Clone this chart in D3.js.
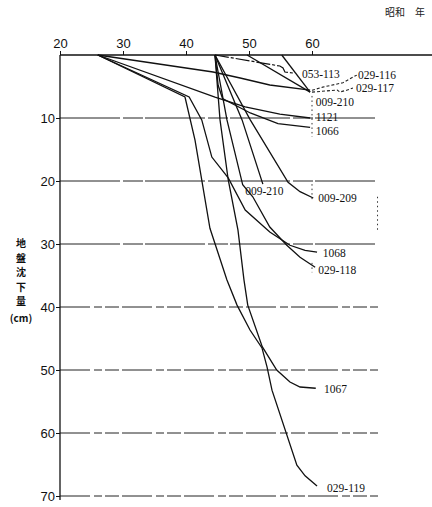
<!DOCTYPE html>
<html>
<head>
<meta charset="utf-8">
<script src="https://cdn.jsdelivr.net/npm/d3@7"></script>
<style>
  body { margin: 0; background: #fff; }
  svg { display: block; }
</style>
</head>
<body>
<div id="main"></div>
<script>
// x: 昭和 year, y: subsidence (cm)
var xTicks = [20, 30, 40, 50, 60];
var yTicks = [10, 20, 30, 40, 50, 60, 70];

var s029_116 = [[26, 0], [44.3, 2.7], [48.6, 3.65], [53.3, 4.76], [59.7, 5.56]];
var s029_116ext = [[60, 5.6], [61.7, 5.1], [64.9, 4.4], [66.5, 3.5], [67.1, 3.2]];
var s029_117 = [[49.7, 0], [59.7, 5.9]];
var s029_117ext = [[60, 5.9], [64.0, 5.56], [64.4, 5.87], [65.6, 5.56], [66.5, 5.24]];
var s055 = [[55.2, 0], [59.7, 5.9]];
var s053_113 = [[44.6, 0], [54.9, 1.75], [55.4, 2.06], [55.7, 2.7], [57.0, 2.86]];
var s1121 = [[26, 0], [44.6, 6.67], [49.4, 8.25], [54.9, 9.37], [59.7, 10]];
var s1066 = [[44.6, 0], [45.1, 4.8], [45.8, 6.9], [50.2, 9.2], [54.6, 10.9], [59.7, 11.5]];
var s009_210 = [[44.6, 0], [48.9, 10.3], [52.2, 20.5]];
var s009_209 = [[44.6, 0], [50.2, 10.3], [56.2, 20.2], [58.1, 21.7], [60.2, 22.7]];
var s1068 = [[26, 0], [40.5, 6.67], [42.5, 10.3], [44.1, 16.2], [46.7, 19.5], [49.4, 24.6],
             [53.3, 28.1], [56.5, 30.2], [58.9, 31.0], [60.8, 31.3]];
var s029_118 = [[44.6, 0], [46.5, 10.3], [49.0, 20.6], [50.6, 22.5], [53.3, 27.3], [56.0, 30.2],
                [58.1, 32.1], [60.5, 33.7]];
var s1067 = [[44.6, 0], [45.4, 10.3], [46.7, 19.8], [48.25, 27.8], [49.2, 35.7], [49.8, 39.7],
             [52.1, 46.3], [54.4, 50], [56.5, 51.9], [58.1, 52.7], [60.6, 52.9]];
var s029_119 = [[26, 0], [39.84, 6.67], [41.43, 13.5], [43.8, 27.5], [46.5, 35.7], [48.1, 39.7],
                [50.16, 43.65], [52.06, 46.5], [52.86, 49.5], [53.65, 53.2], [57.6, 65.1],
                [58.9, 66.8], [60.8, 68.4]];

// label text, year of left edge, value at middle
var labels = [
  ["053-113", 58.4, 3.0],
  ["029-116", 67.3, 3.1],
  ["029-117", 67.0, 5.3],
  ["009-210", 60.6, 7.46],
  ["1121", 60.6, 9.9],
  ["1066", 60.6, 12.1],
  ["009-210", 49.4, 21.6],
  ["009-209", 61.0, 22.7],
  ["1068", 61.7, 31.4],
  ["029-118", 61.0, 34.1],
  ["1067", 61.9, 53.0],
  ["029-119", 62.4, 68.7]
];

var w = 432, h = 507;

var x = d3.scaleLinear().domain([20, 60]).range([60, 312]);
var y = d3.scaleLinear().domain([0, 70]).range([55, 496]);

var svg = d3.select("#main")
  .append("svg")
  .attr("width", w)
  .attr("height", h);

// grid lines (scanned look: broken)
svg.append("g")
  .selectAll("line")
  .data(yTicks)
  .enter()
  .append("line")
  .attr("x1", x(20))
  .attr("x2", 378)
  .attr("y1", function(d) { return y(d); })
  .attr("y2", function(d) { return y(d); })
  .attr("stroke", "#222")
  .attr("stroke-width", 1)
  .attr("stroke-dasharray", function(d) { return d <= 30 ? "60,3,20,2" : "30,4,8,3,14,3"; });

// top axis line goes to the right edge
svg.append("line")
  .attr("x1", x(20)).attr("x2", w)
  .attr("y1", y(0)).attr("y2", y(0))
  .attr("stroke", "#111").attr("stroke-width", 1.3);

// left axis line
svg.append("line")
  .attr("x1", x(20)).attr("x2", x(20))
  .attr("y1", y(0)).attr("y2", y(70) + 4)
  .attr("stroke", "#111").attr("stroke-width", 1.3);

var xAxis = d3.axisTop(x).tickValues(xTicks).tickSize(4).tickPadding(3).tickSizeOuter(0);
var gx = svg.append("g")
  .attr("transform", "translate(0," + y(0) + ")")
  .call(xAxis);
gx.select(".domain").remove();

var yAxis = d3.axisLeft(y).tickValues(yTicks).tickSize(4).tickPadding(1).tickSizeOuter(0);
var gy = svg.append("g")
  .attr("transform", "translate(" + x(20) + ",0)")
  .call(yAxis);
gy.select(".domain").remove();

svg.selectAll(".tick text")
  .attr("font-family", "Liberation Sans, Arial, sans-serif")
  .attr("font-size", 13)
  .attr("fill", "#111");
svg.selectAll(".tick line").attr("stroke", "#111");

// series
var line = d3.line()
  .x(function(d) { return x(d[0]); })
  .y(function(d) { return y(d[1]); });

var solid = [s029_116, s029_117, s055, s1121, s1066, s009_210, s009_209,
             s1068, s029_118, s1067, s029_119];

svg.append("g")
  .selectAll("path")
  .data(solid)
  .enter()
  .append("path")
  .attr("d", line)
  .attr("fill", "none")
  .attr("stroke", "#111")
  .attr("stroke-width", 1.3);

svg.append("g")
  .selectAll("path")
  .data([s029_116ext, s029_117ext])
  .enter()
  .append("path")
  .attr("d", line)
  .attr("fill", "none")
  .attr("stroke", "#222")
  .attr("stroke-width", 1.1)
  .attr("stroke-dasharray", "3,2");

svg.append("path")
  .attr("d", line(s053_113))
  .attr("fill", "none")
  .attr("stroke", "#111")
  .attr("stroke-width", 1.2)
  .attr("stroke-dasharray", "14,2,3,2");

// small dotted marks at year 60 and right side
var dotted = [[[60, 6.5], [60, 13]], [[60, 20.5], [60, 23]], [[60, 33], [60, 34.5]],
              [[70.4, 22.5], [70.4, 28]]];
svg.append("g")
  .selectAll("path")
  .data(dotted)
  .enter()
  .append("path")
  .attr("d", line)
  .attr("stroke", "#333")
  .attr("stroke-width", 1)
  .attr("stroke-dasharray", "1.5,3");

// series labels
svg.append("g")
  .selectAll("text")
  .data(labels)
  .enter()
  .append("text")
  .attr("x", function(d) { return x(d[1]); })
  .attr("y", function(d) { return y(d[2]); })
  .attr("dy", "0.35em")
  .attr("font-family", "Liberation Serif, Times New Roman, serif")
  .attr("font-size", 11.5)
  .attr("fill", "#111")
  .text(function(d) { return d[0]; });

// unit caption at top right
svg.append("text")
  .attr("x", 385).attr("y", 16)
  .attr("font-family", "Noto Sans CJK JP, sans-serif")
  .attr("font-size", 10)
  .attr("fill", "#222")
  .text("昭和　年");

// vertical y-axis title
var yTitle = ["地", "盤", "沈", "下", "量"];
svg.append("g")
  .selectAll("text")
  .data(yTitle)
  .enter()
  .append("text")
  .attr("x", 21)
  .attr("y", function(d, i) { return 247 + i * 14.5; })
  .attr("text-anchor", "middle")
  .attr("font-family", "Noto Sans CJK JP, sans-serif")
  .attr("font-size", 10)
  .attr("font-weight", "bold")
  .attr("fill", "#111")
  .text(function(d) { return d; });

svg.append("text")
  .attr("x", 21).attr("y", 322)
  .attr("text-anchor", "middle")
  .attr("font-family", "Noto Sans CJK JP, sans-serif")
  .attr("font-size", 10)
  .attr("font-weight", "bold")
  .attr("fill", "#111")
  .text("(cm)");
</script>
</body>
</html>
